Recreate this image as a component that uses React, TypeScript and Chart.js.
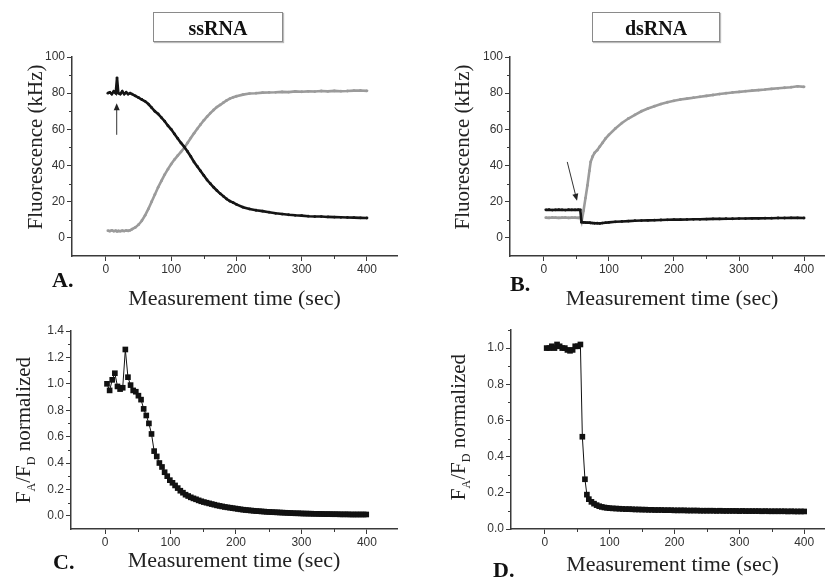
import React, { useEffect, useRef } from "react";
import { Chart, registerables } from "chart.js";

Chart.register(...registerables);

const AXIS = "#3a3a3a";
const SANS = "'Liberation Sans', Arial, sans-serif";
const SERIF = "'Liberation Serif', 'Times New Roman', serif";
const CW = 850;
const CH = 577;

// ---------- shared axis values ----------
const X_MIN = -52;
const X_MAX = 446;
const xTicks = [0, 100, 200, 300, 400];
const xMinor = [50, 150, 250, 350];
const fluoTicks = [0, 20, 40, 60, 80, 100];
const fluoMinor = [10, 30, 50, 70, 90];
const cTicks = [0, 0.2, 0.4, 0.6, 0.8, 1.0, 1.2, 1.4];
const cMinor = [0.1, 0.3, 0.5, 0.7, 0.9, 1.1, 1.3];
const dTicks = [0, 0.2, 0.4, 0.6, 0.8, 1.0];
const dMinor = [0.1, 0.3, 0.5, 0.7, 0.9, 1.1];

// ---------- Panel A: ssRNA fluorescence (kHz) ----------
const tA = [3, 6, 9, 12, 15, 17, 19, 22, 25, 28, 31, 34, 37, 40,
  45, 50, 55, 60, 65, 70, 75, 80, 85, 90, 95, 100, 105, 110, 115, 120, 125, 130, 135, 140,
  145, 150, 155, 160, 165, 170, 175, 180, 185, 190, 195, 200,
  210, 220, 230, 240, 250, 260, 270, 280, 290, 300, 310, 320, 330, 340, 350, 360, 370, 380, 390, 400];
const aBlack = [80, 80.5, 79.5, 81, 80, 88.5, 80, 79.5, 81, 79.5, 80.5, 79.5, 80, 79.5,
  78.5, 77.5, 76.5, 75.5, 74, 72, 70, 68.5, 66.5, 64.5, 62, 60, 57.5, 55, 52.5, 50.3, 47.8, 45, 42, 39.5,
  37, 34.5, 32, 30, 28, 26.2, 24.5, 23, 21.5, 20.3, 19.5, 18.5,
  17, 16, 15.3, 14.8, 14.2, 13.6, 13.2, 12.8, 12.5, 12.3, 12, 11.8, 11.8, 11.6, 11.5, 11.4, 11.3, 11.2, 11.1, 11];
const aGray = [4, 3.8, 4.2, 3.7, 4, 3.6, 3.9, 3.7, 4, 3.8, 4.1, 3.9, 4.2, 4.8,
  5.8, 7.3, 9.5, 12.5, 16, 20, 24, 28, 31.5, 35, 38, 40.8, 43.3, 45.5, 47.6, 49.8, 52.5, 55.2, 57.8, 60.3,
  62.7, 65, 67, 69, 70.7, 72.3, 73.5, 74.8, 76, 77, 77.7, 78.3,
  79.2, 79.8, 80, 80.3, 80.4, 80.5, 80.7, 80.6, 81, 80.8, 81, 80.9, 81.2, 81, 81.3, 81.1, 81.2, 81.4, 81.5, 81.3];
const arrowA = { from: [16.5, 57], to: [16.5, 74.5] };

// ---------- Panel B: dsRNA fluorescence (kHz) ----------
const tB = [3, 8, 13, 18, 23, 28, 33, 38, 43, 48, 53, 56,
  58, 61, 64, 67, 70, 72, 75, 78, 82, 86, 90, 95,
  100, 110, 120, 130, 140, 150, 160, 170, 180, 190, 200, 210, 220, 230, 240, 250,
  260, 270, 280, 290, 300, 310, 320, 330, 340, 350, 360, 370, 380, 390, 400];
const bBlack = [15.5, 15.6, 15.4, 15.5, 15.6, 15.5, 15.4, 15.6, 15.5, 15.5, 15.6, 15.5,
  8.7, 8.6, 8.5, 8.4, 8.4, 8.3, 8.2, 8.1, 8.1, 8.0, 8.2, 8.4,
  8.6, 8.9, 9.1, 9.3, 9.5, 9.6, 9.7, 9.8, 9.9, 10, 10.1, 10.1, 10.2, 10.3, 10.3, 10.4,
  10.5, 10.5, 10.6, 10.6, 10.7, 10.7, 10.8, 10.8, 10.9, 10.9, 11, 11, 11.1, 11.1, 11];
const bGray = [11.2, 11.1, 11.3, 11.2, 11.1, 11.2, 11.3, 11.1, 11.2, 11.2, 11.1, 11.2,
  9, 15, 22, 29, 37, 42, 45, 47, 48.5, 50.5, 52.5, 55,
  57, 60.5, 63.5, 66, 68, 70, 71.5, 72.8, 74, 75, 75.8, 76.5, 77, 77.5, 78, 78.5,
  79, 79.5, 80, 80.4, 80.7, 81.1, 81.4, 81.7, 82, 82.4, 82.7, 83, 83.3, 83.8, 83.5];
const arrowB = { from: [36, 42], to: [51, 20.5] };

// ---------- Panel C: ssRNA FA/FD normalized ----------
const tC = [3, 7, 11, 15, 19, 23, 27, 31, 35, 39, 43, 47, 51, 55, 59, 63, 67, 71, 75, 79,
  83, 87, 91, 95, 99, 103, 107, 111, 115, 119, 123, 127, 131, 135, 139, 143, 147, 151, 155, 159,
  163, 167, 171, 175, 179, 183, 187, 191, 195, 199, 203, 207, 211, 215, 219, 223, 227, 231, 235, 239,
  243, 247, 251, 255, 259, 263, 267, 271, 275, 279, 283, 287, 291, 295, 299, 303, 307, 311, 315, 319,
  323, 327, 331, 335, 339, 343, 347, 351, 355, 359, 363, 367, 371, 375, 379, 383, 387, 391, 395, 399];
const cRatio = [1.0, 0.95, 1.03, 1.08, 0.98, 0.96, 0.97, 1.26, 1.05, 0.99, 0.95, 0.94, 0.91, 0.88, 0.81, 0.76, 0.70, 0.62, 0.49, 0.45,
  0.40, 0.37, 0.33, 0.30, 0.27, 0.25, 0.23, 0.21, 0.19, 0.175, 0.16, 0.15, 0.14, 0.132, 0.125, 0.117, 0.11, 0.104, 0.099, 0.094,
  0.089, 0.084, 0.079, 0.075, 0.071, 0.067, 0.064, 0.061, 0.058, 0.055, 0.052, 0.049, 0.046, 0.044, 0.042, 0.040, 0.038, 0.036, 0.035, 0.033,
  0.032, 0.030, 0.029, 0.028, 0.027, 0.026, 0.025, 0.024, 0.023, 0.022, 0.021, 0.020, 0.019, 0.019, 0.018, 0.017, 0.017, 0.016, 0.016, 0.015,
  0.015, 0.014, 0.014, 0.013, 0.013, 0.013, 0.012, 0.012, 0.012, 0.011, 0.011, 0.011, 0.011, 0.010, 0.010, 0.010, 0.010, 0.010, 0.010, 0.010];

// ---------- Panel D: dsRNA FA/FD normalized ----------
const tD = [3, 7, 11, 15, 19, 23, 27, 31, 35, 39, 43, 47, 51, 55,
  58, 62, 65, 68, 72, 76, 80, 84, 88, 92, 96, 100,
  105, 110, 115, 120, 125, 130, 135, 140, 145, 150, 155, 160, 165, 170, 175, 180, 185, 190, 195, 200,
  205, 210, 215, 220, 225, 230, 235, 240, 245, 250, 255, 260, 265, 270, 275, 280, 285, 290, 295, 300,
  305, 310, 315, 320, 325, 330, 335, 340, 345, 350, 355, 360, 365, 370, 375, 380, 385, 390, 395, 400];
const dRatio = [1.0, 1.0, 1.01, 1.0, 1.02, 1.01, 1.0, 1.0, 0.99, 0.985, 0.99, 1.01, 1.01, 1.02,
  0.51, 0.275, 0.19, 0.165, 0.15, 0.14, 0.132, 0.126, 0.122, 0.119, 0.117, 0.115,
  0.114, 0.113, 0.112, 0.111, 0.110, 0.110, 0.109, 0.108, 0.108, 0.107, 0.107, 0.106, 0.106, 0.105, 0.105, 0.105, 0.104, 0.104, 0.104, 0.103,
  0.103, 0.103, 0.103, 0.102, 0.102, 0.102, 0.102, 0.101, 0.101, 0.101, 0.101, 0.101, 0.100, 0.101, 0.100, 0.100, 0.100, 0.100, 0.100, 0.099,
  0.100, 0.099, 0.099, 0.099, 0.099, 0.099, 0.098, 0.099, 0.098, 0.098, 0.098, 0.098, 0.098, 0.098, 0.097, 0.098, 0.097, 0.097, 0.097, 0.097];

const pts = (xs: number[], ys: number[]) => xs.map((x, i) => ({ x, y: ys[i] }));

// ---------- plugins ----------
const minorTicksPlugin = {
  id: "minorTicks",
  afterDraw(chart: any, _args: any, opts: any) {
    const { ctx } = chart;
    const xs = chart.scales.x;
    const ys = chart.scales.y;
    ctx.save();
    ctx.strokeStyle = AXIS;
    ctx.lineWidth = 1;
    ctx.beginPath();
    for (const v of opts.xMinor || []) {
      const p = Math.round(xs.getPixelForValue(v)) + 0.5;
      ctx.moveTo(p, ys.bottom);
      ctx.lineTo(p, ys.bottom + 3);
    }
    for (const v of opts.yMinor || []) {
      const p = Math.round(ys.getPixelForValue(v)) + 0.5;
      ctx.moveTo(xs.left, p);
      ctx.lineTo(xs.left - 3, p);
    }
    ctx.stroke();
    ctx.restore();
  },
};

const arrowPlugin = {
  id: "arrow",
  afterDatasetsDraw(chart: any, _args: any, opts: any) {
    if (!opts || !opts.from) return;
    const { ctx } = chart;
    const xs = chart.scales.x;
    const ys = chart.scales.y;
    const x1 = xs.getPixelForValue(opts.from[0]);
    const y1 = ys.getPixelForValue(opts.from[1]);
    const x2 = xs.getPixelForValue(opts.to[0]);
    const y2 = ys.getPixelForValue(opts.to[1]);
    const ang = Math.atan2(y2 - y1, x2 - x1);
    const hl = 7;
    const hw = 3;
    ctx.save();
    ctx.strokeStyle = "#333";
    ctx.fillStyle = "#222";
    ctx.lineWidth = 1;
    ctx.beginPath();
    ctx.moveTo(x1, y1);
    ctx.lineTo(x2 - Math.cos(ang) * hl * 0.8, y2 - Math.sin(ang) * hl * 0.8);
    ctx.stroke();
    ctx.beginPath();
    ctx.moveTo(x2, y2);
    ctx.lineTo(x2 - Math.cos(ang) * hl - Math.sin(ang) * hw, y2 - Math.sin(ang) * hl + Math.cos(ang) * hw);
    ctx.lineTo(x2 - Math.cos(ang) * hl + Math.sin(ang) * hw, y2 - Math.sin(ang) * hl - Math.cos(ang) * hw);
    ctx.closePath();
    ctx.fill();
    ctx.restore();
  },
};

type Panel = {
  datasets: any[];
  area: { l: number; r: number; t: number; b: number };
  xH: number;
  yMin: number;
  yMax: number;
  yTicks: number[];
  yMinor: number[];
  decimals: number;
  arrow?: any;
};

function buildConfig(p: Panel): any {
  const yW = 40;
  return {
    type: "line",
    data: { datasets: p.datasets },
    options: {
      animation: false,
      responsive: false,
      maintainAspectRatio: false,
      events: [],
      layout: {
        padding: {
          left: p.area.l - yW,
          top: p.area.t,
          right: CW - p.area.r,
          bottom: CH - p.area.b - p.xH,
        },
      },
      plugins: {
        legend: { display: false },
        tooltip: { enabled: false },
        minorTicks: { xMinor, yMinor: p.yMinor },
        arrow: p.arrow ? p.arrow : false,
      },
      scales: {
        x: {
          type: "linear",
          min: X_MIN,
          max: X_MAX,
          afterBuildTicks: (s: any) => {
            s.ticks = xTicks.map((v) => ({ value: v }));
          },
          afterFit: (s: any) => {
            s.height = p.xH;
          },
          grid: { drawOnChartArea: false, drawTicks: true, tickLength: 5, color: AXIS, tickColor: AXIS, tickWidth: 1 },
          border: { display: true, color: AXIS, width: 1.5 },
          ticks: {
            autoSkip: false,
            maxRotation: 0,
            padding: 1,
            color: "#333",
            font: { family: SANS, size: 12 },
          },
          title: {
            display: true,
            text: "Measurement time (sec)",
            color: "#222",
            font: { family: SERIF, size: 22, lineHeight: 1 },
            padding: { top: 0, bottom: 0 },
          },
        },
        y: {
          type: "linear",
          min: p.yMin,
          max: p.yMax,
          afterBuildTicks: (s: any) => {
            s.ticks = p.yTicks.map((v) => ({ value: v }));
          },
          afterFit: (s: any) => {
            s.width = yW;
          },
          grid: { drawOnChartArea: false, drawTicks: true, tickLength: 5, color: AXIS, tickColor: AXIS, tickWidth: 1 },
          border: { display: true, color: AXIS, width: 1.5 },
          ticks: {
            autoSkip: false,
            padding: 2,
            color: "#333",
            font: { family: SANS, size: 12 },
            callback: (v: any) => Number(v).toFixed(p.decimals),
          },
        },
      },
    },
    plugins: [minorTicksPlugin, arrowPlugin],
  };
}

const lineDs = (xs: number[], ys: number[], color: string) => ({
  data: pts(xs, ys),
  borderColor: color,
  backgroundColor: color,
  borderWidth: 2.6,
  pointRadius: 1.4,
  pointBorderWidth: 0,
  pointBackgroundColor: color,
  tension: 0,
});

const squareDs = (xs: number[], ys: number[]) => ({
  data: pts(xs, ys),
  borderColor: "#111",
  backgroundColor: "#111",
  borderWidth: 1,
  pointStyle: "rect",
  pointRadius: 4,
  pointBorderWidth: 0,
  pointBackgroundColor: "#111",
  tension: 0,
});

const BLACK = "#151515";
const GRAY = "#9b9b9b";

const panels: Panel[] = [
  {
    datasets: [lineDs(tA, aBlack, BLACK), lineDs(tA, aGray, GRAY)],
    area: { l: 72, r: 397, t: 57, b: 256 },
    xH: 54,
    yMin: -10,
    yMax: 100,
    yTicks: fluoTicks,
    yMinor: fluoMinor,
    decimals: 0,
    arrow: arrowA,
  },
  {
    datasets: [lineDs(tB, bBlack, BLACK), lineDs(tB, bGray, GRAY)],
    area: { l: 510, r: 834, t: 57, b: 256 },
    xH: 54,
    yMin: -10,
    yMax: 100,
    yTicks: fluoTicks,
    yMinor: fluoMinor,
    decimals: 0,
    arrow: arrowB,
  },
  {
    datasets: [squareDs(tC, cRatio)],
    area: { l: 71, r: 397, t: 331, b: 529 },
    xH: 43,
    yMin: -0.1,
    yMax: 1.4,
    yTicks: cTicks,
    yMinor: cMinor,
    decimals: 1,
  },
  {
    datasets: [squareDs(tD, dRatio)],
    area: { l: 511, r: 834, t: 330, b: 529 },
    xH: 47,
    yMin: 0,
    yMax: 1.1,
    yTicks: dTicks,
    yMinor: dMinor,
    decimals: 1,
  },
];

function ChartCanvas({ panel }: { panel: Panel }) {
  const ref = useRef<HTMLCanvasElement | null>(null);
  useEffect(() => {
    if (!ref.current) return;
    const chart = new Chart(ref.current, buildConfig(panel));
    return () => chart.destroy();
  }, [panel]);
  return (
    <canvas
      ref={ref}
      width={CW}
      height={CH}
      style={{ position: "absolute", left: 0, top: 0, width: CW, height: CH, pointerEvents: "none" }}
    />
  );
}

const headerStyle = (left: number, width: number): React.CSSProperties => ({
  position: "absolute",
  left,
  top: 12,
  width,
  height: 30,
  boxSizing: "border-box",
  border: "1px solid #8a8a8a",
  boxShadow: "1px 1px 1px #bbb",
  display: "flex",
  alignItems: "center",
  justifyContent: "center",
  paddingTop: 3,
  fontFamily: SERIF,
  fontWeight: "bold",
  fontSize: 20,
  color: "#111",
  background: "#fff",
});

const letterStyle = (left: number, top: number): React.CSSProperties => ({
  position: "absolute",
  left,
  top,
  fontFamily: SERIF,
  fontWeight: "bold",
  fontSize: 22,
  lineHeight: "22px",
  color: "#111",
});

const yTitleStyle = (cx: number, cy: number): React.CSSProperties => ({
  position: "absolute",
  left: cx,
  top: cy,
  transform: "translate(-50%, -50%) rotate(-90deg)",
  whiteSpace: "nowrap",
  fontFamily: SERIF,
  fontSize: 21,
  lineHeight: "22px",
  color: "#222",
});

const subStyle: React.CSSProperties = { fontSize: 12, position: "relative", top: 5 };

export default function App() {
  return (
    <div
      style={{
        position: "absolute",
        left: 0,
        top: 0,
        width: 825,
        height: 577,
        overflow: "hidden",
        background: "#fff",
      }}
    >
      {panels.map((p, i) => (
        <ChartCanvas key={i} panel={p} />
      ))}
      <div style={headerStyle(153, 130)}>ssRNA</div>
      <div style={headerStyle(592, 128)}>dsRNA</div>
      <div style={letterStyle(52, 269)}>A.</div>
      <div style={letterStyle(510, 273)}>B.</div>
      <div style={letterStyle(53, 551)}>C.</div>
      <div style={letterStyle(493, 559)}>D.</div>
      <div style={yTitleStyle(35, 147)}>Fluorescence (kHz)</div>
      <div style={yTitleStyle(462, 147)}>Fluorescence (kHz)</div>
      <div style={yTitleStyle(24, 430)}>
        F<span style={subStyle}>A</span>/F<span style={subStyle}>D</span> normalized
      </div>
      <div style={yTitleStyle(459, 427)}>
        F<span style={subStyle}>A</span>/F<span style={subStyle}>D</span> normalized
      </div>
    </div>
  );
}
